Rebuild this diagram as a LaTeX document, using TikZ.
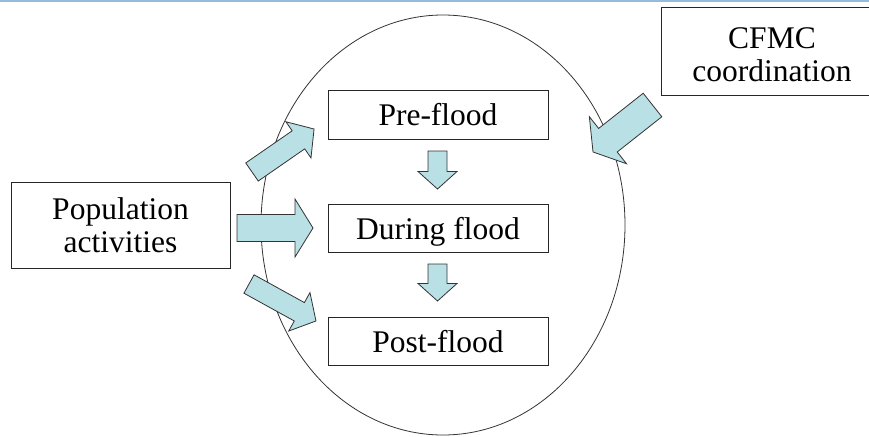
\documentclass[tikz,border=0pt]{standalone}
\usepackage{fontspec}
\setmainfont{Liberation Serif}
\usetikzlibrary{shapes.geometric}
\definecolor{arrowfill}{RGB}{185,224,229}
\definecolor{topline}{RGB}{150,185,220}
\tikzset{
  box/.style={draw=black!85, line width=0.9pt, fill=white, rectangle, inner sep=0pt},
  lbl/.style={font=\fontsize{31.5}{33.3}\selectfont, align=center, inner sep=0pt},
  stagebox/.style={box, lbl, minimum width=220pt, minimum height=48.5pt, text height=21.5pt, text depth=0pt},
  blockarrowstyle/.style={draw=black!80, line width=0.8pt, fill=arrowfill, line join=miter},
}
% #1 tail centre, #2 angle, #3 length, #4 shaft half width, #5 head half width, #6 head length
\newcommand{\blkarrow}[6]{%
  \begin{scope}[shift={#1}, rotate=#2]
    \draw[blockarrowstyle] (0,-#4) -- ({#3-#6},-#4) -- ({#3-#6},-#5) -- (#3,0)
      -- ({#3-#6},#5) -- ({#3-#6},#4) -- (0,#4) -- cycle;
  \end{scope}}
\begin{document}
\begin{tikzpicture}[x=1pt,y=-1pt]
  \useasboundingbox (0,0) rectangle (869,436);
  \clip (0,0) rectangle (869,436);
  \draw[topline, line width=2pt] (0,1.5) -- (869,1.5);
  \node[draw=black!80, line width=0.8pt, ellipse, minimum width=364pt, minimum height=420pt, inner sep=0pt] (phase) at (443,225) {};

  \node[box, lbl, minimum width=219pt, minimum height=86pt] (pop) at (120.5,225) {Population\\activities};
  \node[box, minimum width=222pt, minimum height=88pt] (cfmc) at (772,51) {};
  \node[lbl] (cfmctext) at ([yshift=-3.9pt]cfmc.center) {CFMC\\coordination};

  \node[stagebox] (pre) at (438,115) {Pre-flood};
  \node[stagebox] (during) at (438,228.5) {During flood};
  \node[stagebox] (post) at (438,341.5) {Post-flood};

  \blkarrow{(252,172)}{34.7}{75.5}{11}{22}{19}
  \blkarrow{(237,228)}{0}{76}{13.5}{29}{18}
  \blkarrow{(249,284)}{-28.9}{76.5}{10.5}{22}{19}
  \blkarrow{(652.5,105)}{218.3}{75.8}{15}{30}{19}
  \blkarrow{(437.5,151)}{-90}{38}{9.5}{19.5}{17.5}
  \blkarrow{(437.5,264)}{-90}{37}{9.5}{19.5}{17.5}
\end{tikzpicture}
\end{document}
